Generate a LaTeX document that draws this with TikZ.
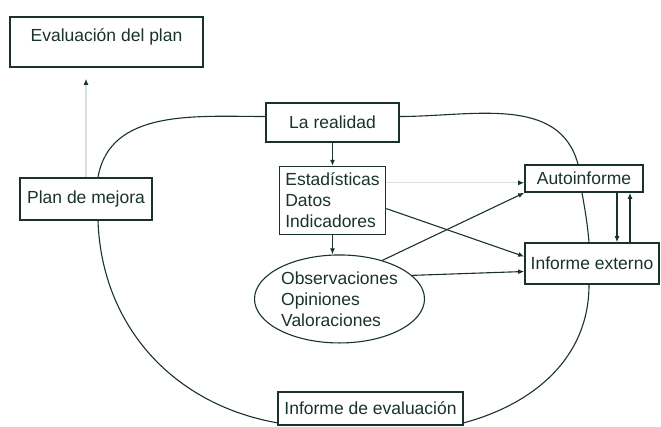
\documentclass[tikz,border=0pt]{standalone}
\usepackage{fontspec}
\setmainfont{Liberation Sans}
\usetikzlibrary{positioning,shapes.geometric,arrows.meta}
\definecolor{ink}{RGB}{25,50,45}
\definecolor{faint}{RGB}{214,224,221}

\begin{document}
\begin{tikzpicture}[x=1pt,y=1pt]
        \tikzstyle{every node}=[font=\fontsize{17.5}{21}\selectfont, text=ink]
        \tikzstyle{box} = [draw=ink, line width=1.6pt, inner sep=4pt]
        \tikzstyle{oval} = [draw=ink, line width=1.1pt, ellipse, align=left, inner sep=0pt, minimum width=170pt, minimum height=88pt]
        \tikzstyle{tip} = [-{Latex[length=6pt,width=5pt,color=ink]}]
        \tikzstyle{link} = [draw=ink, line width=1.1pt]
        \tikzstyle{pale} = [draw=faint, line width=1.1pt]
        \useasboundingbox (0,0) rectangle (661,-426);
        \node[box, minimum width=193pt, minimum height=50pt, text height=12pt, text depth=14pt](evalplan) at (106.5,-42) {Evaluación del plan};
        \node[box, minimum width=133pt, minimum height=39pt](realidad) at (332.5,-122.5) {La realidad};
        \node[box, minimum width=132pt, minimum height=42pt](plan) at (86,-199) {Plan de mejora};
        \node[box, minimum width=106pt, minimum height=68pt, align=left](estad)[below=23pt of realidad] {Estadísticas\\Datos\\Indicadores};
        \node[oval](ell)[below=19pt of estad, xshift=7pt] {Observaciones\\Opiniones\\Valoraciones};
        \node[box, minimum width=118pt, minimum height=27pt, inner ysep=2pt](auto) at (584,-178.5) {Autoinforme};
        \node[box, minimum width=134pt, minimum height=41pt](ext) at (592,-263.5) {Informe externo};
        \node[box, minimum width=185pt, minimum height=33pt](infeval) at (370.5,-408.5) {Informe de evaluación};
        % flechas
        \draw[pale, tip, shorten >=11pt] (plan.north) -- (plan.north |- evalplan.south);
        \draw[link, tip] (realidad) -- (estad);
        \draw[link, tip] (estad) -- (estad |- ell.north);
        \draw[pale, tip] ([yshift=-17pt]estad.north east) -- ([yshift=-17pt]estad.north east -| auto.west);
        \draw[link, tip] ([yshift=-8pt]estad.east) -- ([yshift=7pt]ext.west);
        \draw[link, tip] (ell.42) -- (auto.south west);
        \draw[link, tip] (ell.18) -- ([yshift=-8pt]ext.west);
        \draw[link, tip] ([xshift=33pt]auto.south) -- ([xshift=33pt]auto.south |- ext.north);
        \draw[link, tip] ([xshift=46pt]auto.south |- ext.north) -- ([xshift=46pt]auto.south);
        % ciclo
        \draw[link] ([yshift=6pt]realidad.west) to[out=180,in=80] ([xshift=12pt]plan.north);
        \draw[link] ([yshift=6pt]realidad.east) to[out=0,in=105] ([xshift=-6pt]auto.north);
        \draw[link] ([xshift=-2pt]auto.south) to[out=-80,in=95] ([xshift=-3pt]ext.north);
        \draw[link] ([xshift=-3pt]ext.south) to[out=-90,in=15] ([yshift=3pt]infeval.south east);
        \draw[link] ([xshift=12pt]plan.south) to[out=-88,in=170] ([yshift=3pt]infeval.south west);
\end{tikzpicture}
\end{document}
